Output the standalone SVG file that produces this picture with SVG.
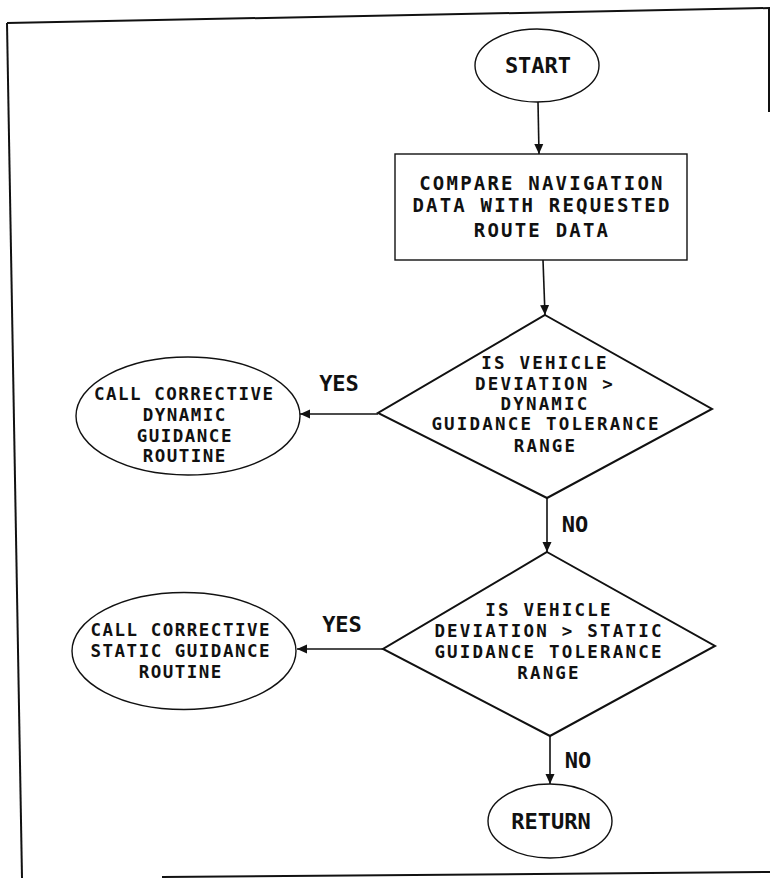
<svg xmlns="http://www.w3.org/2000/svg" width="770" height="878" viewBox="0 0 770 878">
  <style>
    .shape { fill: #ffffff; stroke: #111111; }
    .thin { stroke-width: 1.4; }
    .thick { stroke-width: 2; }
    .frame { fill: none; stroke: #111111; stroke-width: 2; }
    .flow { fill: none; stroke: #111111; stroke-width: 1.6; marker-end: url(#arrow); }
    text { font-family: "DejaVu Sans Mono", "Liberation Mono", monospace; font-weight: bold; fill: #111111; text-anchor: middle; }
    .t22 { font-size: 22px; }
    .box { font-size: 19px; letter-spacing: 2.2px; }
    .dia { font-size: 17.5px; letter-spacing: 2.2px; }
    .ell { font-size: 17.5px; letter-spacing: 1.5px; }
  </style>
  <defs>
    <marker id="arrow" markerUnits="userSpaceOnUse" markerWidth="10" markerHeight="10" viewBox="0 0 10 10" refX="10" refY="5" orient="auto">
      <path d="M0,0.5 L10,5 L0,9.5 Z" fill="#111111"/>
    </marker>
  </defs>

  <rect width="770" height="878" fill="#ffffff"/>

  <!-- page border -->
  <g id="border">
    <path class="frame" d="M7,23 L770,8"/>
    <path class="frame" d="M7,23 L22,878"/>
    <path class="frame" d="M162,877 L770,872"/>
    <path class="frame" d="M769,8 L769,112" stroke-width="1.5"/>
  </g>

  <!-- connectors -->
  <g id="connectors">
    <path class="flow" d="M538,102 L539,154"/>
    <path class="flow" d="M543,260 L545,315"/>
    <path class="flow" d="M378,414 L300,414"/>
    <path class="flow" d="M547,498 L547,552"/>
    <path class="flow" d="M383,649 L297,649"/>
    <path class="flow" d="M550,736 L550,784"/>
    <text class="t22" x="339" y="391">YES</text>
    <text class="t22" x="575" y="532">NO</text>
    <text class="t22" x="342" y="632">YES</text>
    <text class="t22" x="578" y="768">NO</text>
  </g>

  <g id="start">
    <ellipse class="shape thin" cx="537" cy="65.5" rx="62" ry="36.5"/>
    <text class="t22" x="538" y="73">START</text>
  </g>

  <g id="compare">
    <rect class="shape thin" x="395" y="154" width="292" height="106"/>
    <text class="box" x="542" y="189.6">COMPARE NAVIGATION</text>
    <text class="box" x="542" y="212.2">DATA WITH REQUESTED</text>
    <text class="box" x="542" y="237.2">ROUTE DATA</text>
  </g>

  <g id="dynamic-check">
    <polygon class="shape thick" points="545,315 712,409 547,498 378,413"/>
    <text class="dia" x="545" y="368.6">IS VEHICLE</text>
    <text class="dia" x="545" y="390.2">DEVIATION &gt;</text>
    <text class="dia" x="545" y="410.4">DYNAMIC</text>
    <text class="dia" x="546" y="430.4">GUIDANCE TOLERANCE</text>
    <text class="dia" x="545.5" y="451.9">RANGE</text>
  </g>

  <g id="dynamic-routine">
    <ellipse class="shape thin" cx="188" cy="416" rx="112" ry="59"/>
    <text class="ell" x="184.3" y="400.2">CALL CORRECTIVE</text>
    <text class="ell" x="184.8" y="421.1">DYNAMIC</text>
    <text class="ell" x="184.8" y="442.2">GUIDANCE</text>
    <text class="ell" x="184.8" y="462.4">ROUTINE</text>
  </g>

  <g id="static-check">
    <polygon class="shape thick" points="547,552 715,646 550,736 383,649"/>
    <text class="dia" x="549" y="616.4">IS VEHICLE</text>
    <text class="dia" x="549" y="637.4">DEVIATION &gt; STATIC</text>
    <text class="dia" x="549" y="657.9">GUIDANCE TOLERANCE</text>
    <text class="dia" x="549" y="679.1">RANGE</text>
  </g>

  <g id="static-routine">
    <ellipse class="shape thin" cx="184" cy="651" rx="112" ry="58.5"/>
    <text class="ell" x="180.8" y="636.4">CALL CORRECTIVE</text>
    <text class="ell" x="180.8" y="656.7">STATIC GUIDANCE</text>
    <text class="ell" x="180.8" y="678.4">ROUTINE</text>
  </g>

  <g id="return">
    <ellipse class="shape thin" cx="550" cy="821" rx="62" ry="37"/>
    <text class="t22" x="551" y="828.5">RETURN</text>
  </g>
</svg>
